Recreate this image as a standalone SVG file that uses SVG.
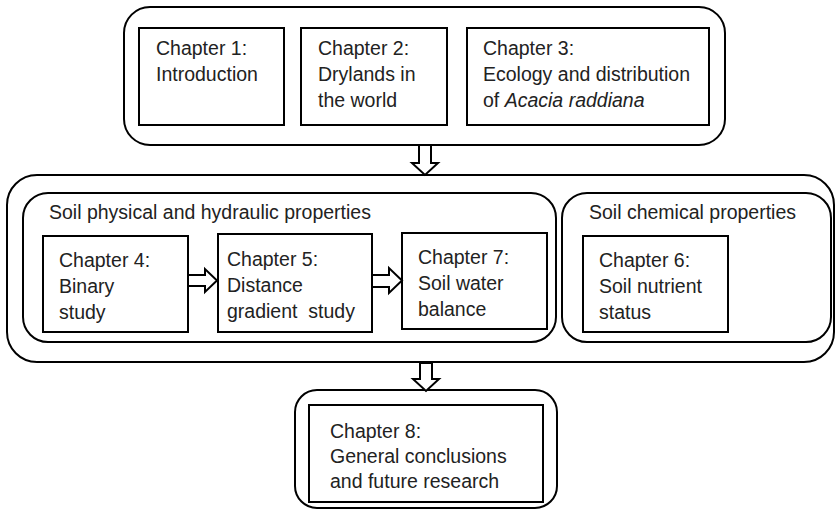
<svg xmlns="http://www.w3.org/2000/svg" width="836" height="510" viewBox="0 0 836 510">
<style>
.grp{fill:none;stroke:#000;stroke-width:2}
.box{fill:#fff;stroke:#000;stroke-width:2}
.arr{fill:#fff;stroke:#000;stroke-width:2;stroke-linejoin:miter}
text{font-family:"Liberation Sans",Arial,sans-serif;font-size:19.5px;fill:#222;white-space:pre}
</style>
<rect width="836" height="510" fill="#fff"/>
<g id="group-top">
<rect class="grp" x="124" y="7" width="601" height="138" rx="26"/>
</g>
<g id="ch1">
<rect class="box" x="139" y="28" width="145" height="97"/>
<text x="156" y="55">Chapter 1:</text>
<text x="156" y="81">Introduction</text>
</g>
<g id="ch2">
<rect class="box" x="301" y="28" width="146" height="97"/>
<text x="318" y="55">Chapter 2:</text>
<text x="318" y="81">Drylands in</text>
<text x="318" y="107">the world</text>
</g>
<g id="ch3">
<rect class="box" x="467" y="28" width="242" height="97"/>
<text x="483" y="55">Chapter 3:</text>
<text x="483" y="81">Ecology and distribution</text>
<text x="483" y="107">of <tspan font-style="italic">Acacia raddiana</tspan></text>
</g>
<g id="group-middle">
<rect class="grp" x="7" y="175" width="827" height="187" rx="30"/>
</g>
<g id="group-physical">
<rect class="grp" x="23" y="193" width="533" height="149" rx="25"/>
<text x="49" y="219">Soil physical and hydraulic properties</text>
</g>
<g id="group-chemical">
<rect class="grp" x="562" y="193" width="269" height="149" rx="25"/>
<text x="589" y="219">Soil chemical properties</text>
</g>
<g id="ch4">
<rect class="box" x="43" y="236" width="145" height="96"/>
<text x="59" y="267">Chapter 4:</text>
<text x="59" y="293">Binary</text>
<text x="59" y="319">study</text>
</g>
<g id="ch5">
<rect class="box" x="218" y="234" width="154" height="98"/>
<text x="227" y="266">Chapter 5:</text>
<text x="227" y="292">Distance</text>
<text x="227" y="318">gradient  study</text>
</g>
<g id="ch7">
<rect class="box" x="402" y="233" width="145" height="96"/>
<text x="418" y="264">Chapter 7:</text>
<text x="418" y="290">Soil water</text>
<text x="418" y="316">balance</text>
</g>
<g id="ch6">
<rect class="box" x="583" y="236" width="145" height="96"/>
<text x="599" y="267">Chapter 6:</text>
<text x="599" y="293">Soil nutrient</text>
<text x="599" y="319">status</text>
</g>
<g id="group-bottom">
<rect class="grp" x="295" y="390" width="262" height="118" rx="22"/>
</g>
<g id="ch8">
<rect class="box" x="309" y="405" width="234" height="97"/>
<text x="330" y="438">Chapter 8:</text>
<text x="330" y="463">General conclusions</text>
<text x="330" y="488">and future research</text>
</g>
<g id="connectors">
<polygon class="arr" points="419,145 431,145 431,163 438,163 425,175 412,163 419,163"/>
<polygon class="arr" points="188,275 205,275 205,269 217,280.5 205,292 205,286 188,286"/>
<polygon class="arr" points="372,275 389,275 389,268 402,280.5 389,293 389,287 372,287"/>
<polygon class="arr" points="420,363 432,363 432,379 439,379 426,391 413,379 420,379"/>
</g>
</svg>
